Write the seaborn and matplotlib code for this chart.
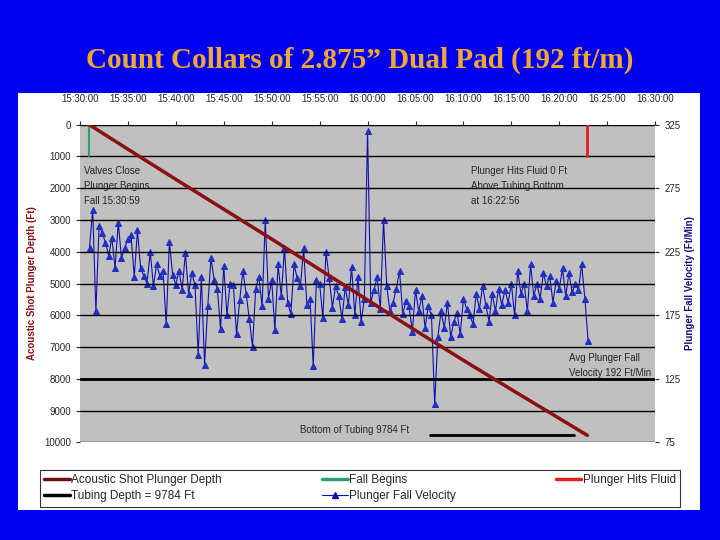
import matplotlib.pyplot as plt
import matplotlib.patches as mpatches
import numpy as np
import pandas as pd
import seaborn as sns

# depth readings (minutes after 15:30, ft)
depth_min = [0.98, 5, 10, 15, 20, 25, 30, 35, 40, 45, 50, 52.93]
depth_ft = [0, 770, 1720, 2660, 3600, 4560, 5520, 6480, 7420, 8340, 9250, 9784]

# velocity readings, 3 per minute from 15:31:00 (ft/min)
velocity = [
    228, 258, 178, 245, 240, 232, 222, 236, 212, 248, 220, 228,
    235, 238, 205, 242, 212, 206, 200, 225, 198, 215, 206, 210,
    168, 233, 207, 199, 210, 195, 224, 192, 208, 199, 144, 205,
    136, 182, 220, 203, 196, 164, 214, 175, 200, 199, 160, 187,
    210, 192, 172, 150, 196, 205, 182, 250, 188, 203, 163, 215,
    190, 228, 185, 176, 215, 204, 198, 228, 183, 188, 135, 203,
    200, 173, 225, 204, 181, 198, 190, 172, 197, 183, 213, 175,
    205, 170, 188, 320, 185, 195, 205, 180, 250, 198, 178, 185,
    196, 210, 176, 186, 182, 162, 195, 178, 190, 165, 182, 175,
    105, 158, 178, 165, 185, 158, 170, 177, 160, 188, 180, 175,
    168, 192, 180, 198, 183, 170, 192, 178, 196, 183, 195, 185,
    200, 175, 210, 192, 200, 178, 215, 190, 200, 188, 208, 198,
    206, 185, 202, 196, 212, 190, 208, 193, 200, 195, 215, 188,
    155,
]
vel_min = [1 + i / 3 for i in range(len(velocity))]

tick_labels = ["15:30:00", "15:35:00", "15:40:00", "15:45:00", "15:50:00", "15:55:00",
               "16:00:00", "16:05:00", "16:10:00", "16:15:00", "16:20:00", "16:25:00", "16:30:00"]

sns.set_style("white")
plt.rcParams['font.family'] = ['Liberation Sans', 'DejaVu Sans']

fig = plt.figure(figsize=(7.2, 5.4), dpi=100)
fig.patch.set_facecolor('#0000F0')
fig.patches.append(mpatches.Rectangle((0.025, 0.056), 0.947, 0.772, transform=fig.transFigure,
                                      facecolor='white', edgecolor='none', zorder=-5))
fig.text(0.5, 0.888, "Count Collars of 2.875\u201d Dual Pad (192 ft/m)", ha='center', va='center',
         fontsize=21, fontweight='bold', family='Liberation Serif', color='#F0A830')

ax2 = fig.add_axes([0.111, 0.181, 0.799, 0.588])
ax2.set_facecolor('#C0C0C0')
ax = ax2.twinx()

df_v = pd.DataFrame({'t': vel_min, 'v': velocity})
sns.lineplot(data=df_v, x='t', y='v', ax=ax2, color='#1010B0', lw=0.8, marker='^',
             markersize=5, markeredgecolor='#2030C0', markerfacecolor='#2030C0')

df_d = pd.DataFrame({'t': depth_min, 'd': depth_ft})
sns.lineplot(data=df_d, x='t', y='d', ax=ax, color='#8B1010', lw=2.5, zorder=3)
ax.plot([0.98, 0.98], [0, 1000], color='#2E9E6E', lw=1.5)
ax.plot([52.93, 52.93], [0, 1000], color='#E02020', lw=2)
ax.plot([36.5, 51.5], [9784, 9784], color='black', lw=2)

ax2.set_xlim(0, 60)
ax.set_ylim(10000, 0)
ax2.set_ylim(75, 325)
ax.set_yticks(range(0, 10001, 1000))
ax.set_yticklabels([str(v) for v in range(0, 10001, 1000)], fontsize=7)
ax.yaxis.tick_left()
ax2.yaxis.tick_right()
ax2.set_yticks(range(75, 326, 50))
ax2.set_yticklabels([str(v) for v in range(75, 326, 50)], fontsize=7)
ax2.set_xticks(range(0, 61, 5))
ax2.set_xticklabels(tick_labels, fontsize=7)
ax2.xaxis.tick_top()
ax2.tick_params(axis='x', length=3, pad=12)
ax.tick_params(axis='y', length=3)
ax2.tick_params(axis='y', length=3)
for a in (ax, ax2):
    a.set_xlabel("")
    a.set_ylabel("")
    for s in a.spines.values():
        s.set_visible(False)
ax.grid(axis='y', color='black', lw=1, zorder=0)
ax.axhline(8000, color='black', lw=2, zorder=0)
ax2.set_axisbelow(True)

fig.text(0.045, 0.475, "Acoustic Shot Plunger Depth (Ft)", rotation=90, ha='center', va='center',
         fontsize=7, fontweight='bold', color='#8B1010')
fig.text(0.958, 0.475, "Plunger Fall Velocity (Ft/Min)", rotation=90, ha='center', va='center',
         fontsize=7, fontweight='bold', color='#101080')

ax.text(0.4, 1300, "Valves Close\nPlunger Begins\nFall 15:30:59", fontsize=7, va='top',
        linespacing=1.6)
ax.text(40.8, 1300, "Plunger Hits Fluid 0 Ft\nAbove Tubing Bottom\nat 16:22:56", fontsize=7,
        va='top', linespacing=1.6)
ax.text(51, 7200, "Avg Plunger Fall\nVelocity 192 Ft/Min", fontsize=7, va='top', linespacing=1.6)
ax.text(23, 9600, "Bottom of Tubing 9784 Ft", fontsize=7, va='center')

handles = [
    plt.Line2D([], [], color='#6B1010', lw=2.5, label='Acoustic Shot Plunger Depth'),
    plt.Line2D([], [], color='black', lw=2.5, label='Tubing Depth = 9784 Ft'),
    plt.Line2D([], [], color='#2E9E6E', lw=2.5, label='Fall Begins'),
    plt.Line2D([], [], color='#1010B0', lw=0.8, marker='^', markersize=5, label='Plunger Fall Velocity'),
    plt.Line2D([], [], color='#E02020', lw=2.5, label='Plunger Hits Fluid'),
]
leg = fig.legend(handles=handles, ncol=3, loc='lower left', bbox_to_anchor=(0.055, 0.062, 0.89, 0.095),
                 mode='expand', fontsize=8.5, frameon=True, fancybox=False, edgecolor='black',
                 handlelength=2.2, handletextpad=0.1, borderaxespad=0, labelspacing=0.3)
leg.get_frame().set_linewidth(0.8)

fig.savefig("out.png", dpi=100, facecolor=fig.get_facecolor())
